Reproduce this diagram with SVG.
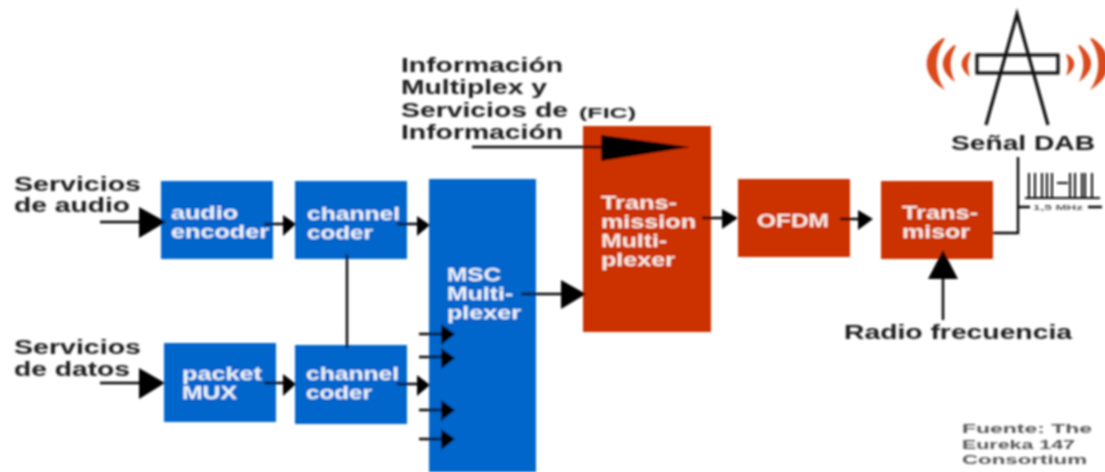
<svg xmlns="http://www.w3.org/2000/svg" width="1105" height="472" viewBox="0 0 1105 472">
<defs><filter id="soft" filterUnits="userSpaceOnUse" x="0" y="0" width="1105" height="472"><feGaussianBlur stdDeviation="0.8"/></filter></defs>
<style>
.b{fill:#0066cc}.r{fill:#cc3300}
text{font-family:"Liberation Sans",Arial,sans-serif;font-weight:bold}
.k{fill:#1c1c1c;font-size:20px}.w{fill:#eef4fb;font-size:18.5px}.o{fill:#f8ebe3;font-size:18.5px}
.l{stroke:#000;stroke-width:2.4;fill:none}.a{fill:#000}
.t{stroke:#111;stroke-width:3.2;fill:none}
.s{fill:#d9481c}
.g{fill:#555;font-size:13.5px}
</style>
<rect width="1105" height="472" fill="#fff"/>
<g filter="url(#soft)">
<g id="audio-encoder"><rect class="b" x="161" y="181" width="112" height="78"/><text class="w" x="171" y="219" textLength="67" lengthAdjust="spacingAndGlyphs">audio</text><text class="w" x="171" y="238" textLength="98" lengthAdjust="spacingAndGlyphs">encoder</text></g>
<g id="channel-coder-1"><rect class="b" x="295" y="181" width="112" height="78"/><text class="w" x="307" y="220" textLength="93" lengthAdjust="spacingAndGlyphs">channel</text><text class="w" x="307" y="239" textLength="66" lengthAdjust="spacingAndGlyphs">coder</text></g>
<g id="packet-mux"><rect class="b" x="164" y="343" width="112" height="79"/><text class="w" x="182" y="380" textLength="80" lengthAdjust="spacingAndGlyphs">packet</text><text class="w" x="182" y="399" textLength="55" lengthAdjust="spacingAndGlyphs">MUX</text></g>
<g id="channel-coder-2"><rect class="b" x="295" y="345" width="112" height="79"/><text class="w" x="306" y="380" textLength="93" lengthAdjust="spacingAndGlyphs">channel</text><text class="w" x="306" y="399" textLength="66" lengthAdjust="spacingAndGlyphs">coder</text></g>
<g id="msc-multiplexer"><rect class="b" x="429" y="179" width="107" height="293"/><text class="w" x="447" y="281" textLength="54" lengthAdjust="spacingAndGlyphs">MSC</text><text class="w" x="447" y="300" textLength="66" lengthAdjust="spacingAndGlyphs">Multi-</text><text class="w" x="447" y="319" textLength="74" lengthAdjust="spacingAndGlyphs">plexer</text></g>
<g id="transmission-multiplexer"><rect class="r" x="583" y="126" width="128" height="206"/><text class="o" x="601" y="209" textLength="76" lengthAdjust="spacingAndGlyphs">Trans-</text><text class="o" x="601" y="228" textLength="95" lengthAdjust="spacingAndGlyphs">mission</text><text class="o" x="601" y="247" textLength="66" lengthAdjust="spacingAndGlyphs">Multi-</text><text class="o" x="601" y="266" textLength="74" lengthAdjust="spacingAndGlyphs">plexer</text></g>
<g id="ofdm"><rect class="r" x="738" y="179" width="112" height="78"/><text class="o" x="757" y="227" textLength="72" lengthAdjust="spacingAndGlyphs">OFDM</text></g>
<g id="transmisor"><rect class="r" x="881" y="181" width="112" height="78"/><text class="o" x="902" y="219" textLength="76" lengthAdjust="spacingAndGlyphs">Trans-</text><text class="o" x="902" y="238" textLength="68" lengthAdjust="spacingAndGlyphs">misor</text></g>
<g id="connectors">
<path class="l" d="M100 222H145M264 224H285M397 224H420M347 254V348M419 334H445M419 357H445M397 384H420M419 410H445M419 439H445M100 383H145M264 383H285M521 294H565M702 218H725M840 219H860M943 270V320M993 233H1018V157M1018 207H1030M1088 207H1102M472 147H605"/>
<path class="a" d="M139 207L166 222L139 238ZM139 368L165 383L139 399ZM283 215L296 224L283 236ZM283 374L296 384L283 396ZM417 216L430 225L417 236ZM417 375L430 385L417 396ZM441 324L455 334L441 345ZM441 348L455 358L441 369ZM441 400L455 410L441 421ZM441 429L455 439L441 450ZM561 280L586 294L561 309ZM601 135L690 147L601 161ZM722 209L738 218L722 229ZM858 210L873 219L858 230ZM928 279L943 250L958 279Z"/>
</g>
<g id="antena">
<path class="t" d="M986 125L1017 14L1048 125"/>
<rect class="t" x="977" y="55" width="81" height="18"/>
<path class="s" d="M943 38C921 52 921 76 945 90C934 74 934 54 945 39Z"/>
<path class="s" d="M954 45C939 58 939 70 955 82C949 69 949 58 956 46Z"/>
<path class="s" d="M969 52C959 60 959 68 970 77C967 68 967 60 971 53Z"/>
<path class="s" d="M1092 38C1114 52 1114 76 1090 90C1101 74 1101 54 1090 39Z"/>
<path class="s" d="M1080 45C1095 58 1095 70 1079 82C1085 69 1085 58 1078 46Z"/>
<path class="s" d="M1067 54C1077 60 1077 68 1066 76C1069 68 1069 60 1066 55Z"/>
</g>
<g id="espectro">
<path stroke="#111" stroke-width="2" fill="none" d="M1025 198H1100M1029 173V198M1035 173V198M1042 173V198M1047 173V198M1052 173V198M1057 183H1068M1070 173V198M1075 173V198M1082 173V198M1085 173V198M1092 173V198"/>
<text x="1033" y="210" font-size="7" fill="#555" textLength="50" lengthAdjust="spacingAndGlyphs">1,5 MHz</text>
</g>
<g id="etiquetas">
<text class="k" x="14" y="191" textLength="127" lengthAdjust="spacingAndGlyphs">Servicios</text>
<text class="k" x="14" y="212" textLength="116" lengthAdjust="spacingAndGlyphs">de audio</text>
<text class="k" x="14" y="354" textLength="127" lengthAdjust="spacingAndGlyphs">Servicios</text>
<text class="k" x="14" y="376" textLength="116" lengthAdjust="spacingAndGlyphs">de datos</text>
<text class="k" x="401" y="72" textLength="162" lengthAdjust="spacingAndGlyphs">Información</text>
<text class="k" x="401" y="94" textLength="146" lengthAdjust="spacingAndGlyphs">Multiplex y</text>
<text class="k" x="401" y="117" textLength="167" lengthAdjust="spacingAndGlyphs">Servicios de</text>
<text class="k" x="401" y="139" textLength="162" lengthAdjust="spacingAndGlyphs">Información</text>
<text class="k" x="579" y="118" style="font-size:15px" textLength="57" lengthAdjust="spacingAndGlyphs">(FIC)</text>
<text class="k" x="951" y="150" textLength="144" lengthAdjust="spacingAndGlyphs">Señal DAB</text>
<text class="k" x="844" y="339" textLength="228" lengthAdjust="spacingAndGlyphs">Radio frecuencia</text>
<text class="g" x="962" y="433" textLength="130" lengthAdjust="spacingAndGlyphs">Fuente: The</text>
<text class="g" x="962" y="449" textLength="113" lengthAdjust="spacingAndGlyphs">Eureka 147</text>
<text class="g" x="962" y="464" textLength="125" lengthAdjust="spacingAndGlyphs">Consortium</text>
</g>
</g>
</svg>
